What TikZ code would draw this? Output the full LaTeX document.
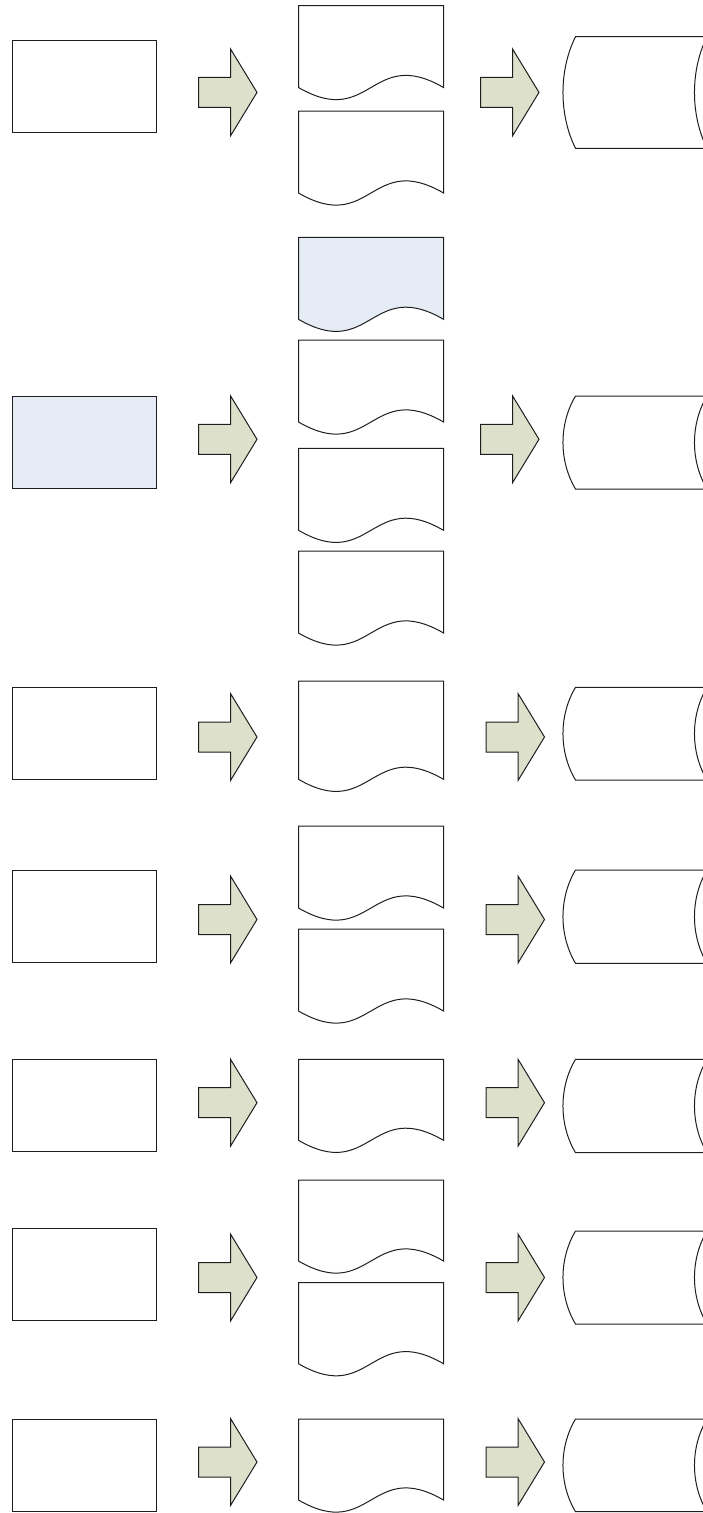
\documentclass[tikz,border=0pt]{standalone}
\usepackage{tikz}
\definecolor{arrowfill}{RGB}{221,225,204}
\definecolor{bluefill}{RGB}{230,236,246}
\definecolor{linecol}{RGB}{30,30,30}
\tikzset{
  shapeline/.style={draw=linecol, line width=1pt, fill=white, line join=miter},
  rectbox/.style={shapeline, rectangle, inner sep=0pt, outer sep=0pt, anchor=north west, minimum width=143.5pt, minimum height=92.5pt},
  blockarrow/.style={draw=linecol, line width=1pt, fill=arrowfill, line join=miter},
}
\newcommand{\DocShape}[4]{%
  \draw[shapeline, fill=#4] (298.5,#2) coordinate (#1) -- (443.5,#2) -- (443.5,#2+#3)
    .. controls (371,#2+#3-42) and (371,#2+#3+42) .. (298.5,#2+#3) -- cycle;}
\newcommand{\BlockArrow}[3]{%
  \draw[blockarrow] (#2,#3-15) coordinate (#1) -- (#2+32,#3-15) -- (#2+32,#3-43.5) -- (#2+58.5,#3)
    -- (#2+32,#3+43.5) -- (#2+32,#3+15) -- (#2,#3+15) -- cycle;}
\newcommand{\StoreShape}[3]{%
  \draw[shapeline] (575.5,#2) coordinate (#1) -- (707,#2)
    .. controls (690.3,{#2+0.3*(#3-#2)}) and (690.3,{#3-0.3*(#3-#2)}) .. (707,#3)
    -- (575.5,#3)
    .. controls (558.8,{#3-0.3*(#3-#2)}) and (558.8,{#2+0.3*(#3-#2)}) .. (575.5,#2) -- cycle;}
\begin{document}
\begin{tikzpicture}[x=1pt,y=-1pt]
\useasboundingbox (0,0) rectangle (703,1513);
\clip (0,0) rectangle (703,1513);
% Row 1
\node[rectbox] (r1in) at (12.5,40) {};
\BlockArrow{r1a}{198.5}{92.4}
\DocShape{r1d1}{5.5}{82}{white}
\DocShape{r1d2}{111}{82}{white}
\BlockArrow{r1b}{480.5}{92.4}
\StoreShape{r1s}{36.7}{148.3}
% Row 2
\node[rectbox, fill=bluefill] (r2in) at (12.5,396) {};
\BlockArrow{r2a}{198.5}{439.3}
\DocShape{r2d1}{237.3}{82}{bluefill}
\DocShape{r2d2}{340}{82}{white}
\DocShape{r2d3}{448.3}{82}{white}
\DocShape{r2d4}{551}{82}{white}
\BlockArrow{r2b}{480.5}{439.3}
\StoreShape{r2s}{396}{489}
% Row 3
\node[rectbox] (r3in) at (12.5,687.3) {};
\BlockArrow{r3a}{198.5}{737}
\DocShape{r3d1}{681}{98.3}{white}
\BlockArrow{r3b}{486}{737}
\StoreShape{r3s}{687.3}{780}
% Row 4
\node[rectbox] (r4in) at (12.5,870) {};
\BlockArrow{r4a}{198.5}{919.5}
\DocShape{r4d1}{826}{82}{white}
\DocShape{r4d2}{929}{82}{white}
\BlockArrow{r4b}{486}{919.5}
\StoreShape{r4s}{870}{963.3}
% Row 5
\node[rectbox] (r5in) at (12.5,1059.3) {};
\BlockArrow{r5a}{198.5}{1102.7}
\DocShape{r5d1}{1059.3}{81}{white}
\BlockArrow{r5b}{486}{1102.7}
\StoreShape{r5s}{1059.3}{1152.7}
% Row 6
\node[rectbox] (r6in) at (12.5,1228.3) {};
\BlockArrow{r6a}{198.5}{1277.5}
\DocShape{r6d1}{1180}{81}{white}
\DocShape{r6d2}{1282.7}{81}{white}
\BlockArrow{r6b}{486}{1277.5}
\StoreShape{r6s}{1231}{1324}
% Row 7
\node[rectbox] (r7in) at (12.5,1419) {};
\BlockArrow{r7a}{198.5}{1462}
\DocShape{r7d1}{1419}{81}{white}
\BlockArrow{r7b}{486}{1462}
\StoreShape{r7s}{1419}{1511.7}
\end{tikzpicture}
\end{document}
